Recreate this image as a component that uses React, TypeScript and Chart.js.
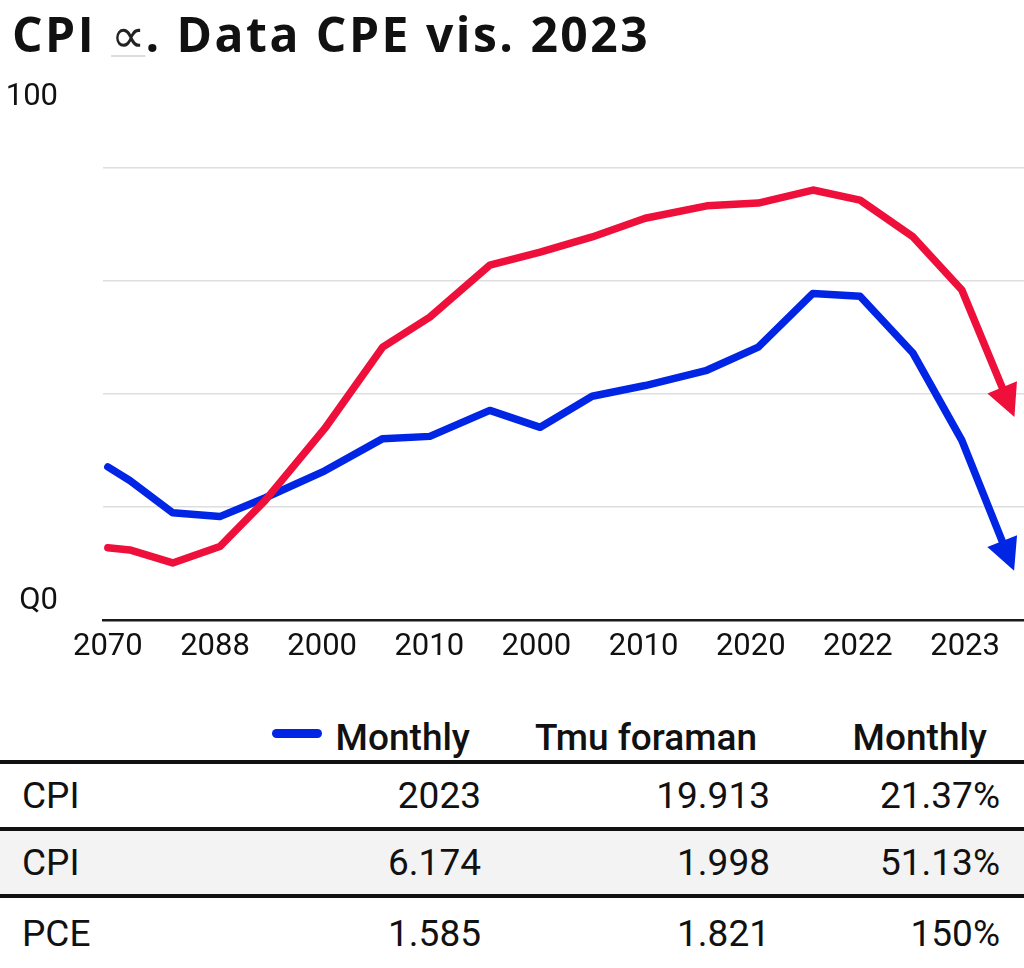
import React, { useEffect, useRef } from 'react';
import { Chart, registerables } from 'chart.js';

Chart.register(...registerables);

const titleStart = 'CPI ';
const titleGlyph = '∝';
const titleEnd = '. Data CPE vis. 2023';

const xTickLabels = ['2070', '2088', '2000', '2010', '2000', '2010', '2020', '2022', '2023'];
const xTickPositions = [0, 2, 4, 6, 8, 10, 12, 14, 16];
const xPositions = [0, 0.41, 1.21, 2.09, 2.93, 4.05, 5.13, 6.01, 7.13, 8.07, 9.04, 10.03, 11.18, 12.14, 13.16, 14.04, 15.03, 15.94, 16.7];
const redSeries = [12.8, 12.4, 10.1, 13.0, 21.1, 33.9, 48.3, 53.6, 62.8, 65.1, 67.8, 71.1, 73.3, 73.8, 76.1, 74.3, 67.8, 58.4, 41.0];
const blueSeries = [27.1, 24.7, 19.0, 18.3, 21.6, 26.4, 32.1, 32.5, 37.1, 34.1, 39.6, 41.5, 44.2, 48.3, 57.8, 57.3, 47.2, 31.8, 13.8];

const yGridValues = [20, 40, 60, 80];
const yTickLabels = ['Q0', '100'];
const yTickLabelValues = [3.3, 92.6];

const tableHeaders = ['Monthly', 'Tmu foraman', 'Monthly'];
const rowLabels = ['CPI', 'CPI', 'PCE'];
const col1 = ['2023', '6.174', '1.585'];
const col2 = ['19.913', '1.998', '1.821'];
const col3 = ['21.37%', '51.13%', '150%'];

const RED = '#EF0F3B';
const BLUE = '#0025E5';

const arrowPlugin = {
  id: 'arrowHeads',
  afterDatasetsDraw(chart: any) {
    const ctx = chart.ctx;
    chart.data.datasets.forEach((ds: any, i: number) => {
      const meta = chart.getDatasetMeta(i);
      const pts = meta.data;
      if (pts.length < 2) return;
      const a = pts[pts.length - 2];
      const b = pts[pts.length - 1];
      const dx = b.x - a.x;
      const dy = b.y - a.y;
      const len = Math.hypot(dx, dy) || 1;
      const ux = dx / len;
      const uy = dy / len;
      const L = 31;
      const W = 16;
      const tipX = b.x + ux * L;
      const tipY = b.y + uy * L;
      const bx = b.x - ux * 1;
      const by = b.y - uy * 1;
      ctx.save();
      ctx.fillStyle = ds.borderColor;
      ctx.beginPath();
      ctx.moveTo(tipX, tipY);
      ctx.lineTo(bx - uy * W, by + ux * W);
      ctx.lineTo(bx + uy * W, by - ux * W);
      ctx.closePath();
      ctx.fill();
      ctx.restore();
    });
  },
};

function LineChart() {
  const ref = useRef<HTMLCanvasElement | null>(null);
  useEffect(() => {
    if (!ref.current) return;
    const chart = new Chart(ref.current, {
      type: 'line',
      data: {
        datasets: [
          {
            label: 'PCE',
            data: xPositions.map((x, i) => ({ x, y: redSeries[i] })),
            borderColor: RED,
            backgroundColor: RED,
            borderWidth: 7.5,
            pointRadius: 0,
            borderJoinStyle: 'round',
            borderCapStyle: 'round',
            tension: 0,
          },
          {
            label: 'CPI',
            data: xPositions.map((x, i) => ({ x, y: blueSeries[i] })),
            borderColor: BLUE,
            backgroundColor: BLUE,
            borderWidth: 7.5,
            pointRadius: 0,
            borderJoinStyle: 'round',
            borderCapStyle: 'round',
            tension: 0,
          },
        ],
      },
      options: {
        animation: false,
        responsive: true,
        maintainAspectRatio: false,
        layout: { padding: { top: 55, left: 0, right: 0, bottom: 0 } },
        plugins: {
          legend: { display: false },
          tooltip: { enabled: false },
          title: { display: false },
        },
        scales: {
          x: {
            type: 'linear',
            min: -0.09,
            max: 17.1,
            afterBuildTicks: (axis: any) => {
              axis.ticks = xTickPositions.map((v) => ({ value: v }));
            },
            afterFit: (axis: any) => {
              axis.height = 61;
            },
            grid: { display: false, drawTicks: false },
            border: { display: true, color: '#1a1a1a', width: 2.5 },
            ticks: {
              autoSkip: false,
              maxRotation: 0,
              padding: 9,
              color: '#111',
              font: { family: 'Roboto', size: 31, weight: 'normal' },
              callback: (v: any) => {
                const idx = xTickPositions.indexOf(Number(v));
                return idx >= 0 ? xTickLabels[idx] : '';
              },
            },
          },
          y: {
            type: 'linear',
            min: 0,
            max: 100,
            afterBuildTicks: (axis: any) => {
              const vals = [0, ...yTickLabelValues, ...yGridValues].sort((a, b) => a - b);
              axis.ticks = vals.map((v) => ({ value: v }));
            },
            afterFit: (axis: any) => {
              axis.width = 103;
              axis.paddingTop = 0;
              axis.paddingBottom = 0;
            },
            grid: {
              drawTicks: false,
              lineWidth: 1.5,
              color: (c: any) => (c.tick && yGridValues.includes(c.tick.value) ? '#dedede' : 'rgba(0,0,0,0)'),
            },
            border: { display: false },
            ticks: {
              padding: 45,
              color: '#111',
              font: { family: 'Roboto', size: 31, weight: 'normal' },
              callback: (v: any) => {
                const idx = yTickLabelValues.indexOf(Number(v));
                return idx >= 0 ? yTickLabels[idx] : '';
              },
            },
          },
        },
      },
      plugins: [arrowPlugin],
    } as any);
    return () => chart.destroy();
  }, []);
  return (
    <div style={{ position: 'absolute', left: 0, top: 0, width: 1024, height: 681 }}>
      <canvas ref={ref} />
    </div>
  );
}

const abs = (s: React.CSSProperties): React.CSSProperties => ({ position: 'absolute', ...s });

export default function App() {
  useEffect(() => {
    document.body.style.margin = '0';
    document.body.style.background = '#fff';
  }, []);
  const rowTops = [764, 831, 898];
  const rowHeights = [63, 63, 70];
  const valueFont: React.CSSProperties = { fontFamily: 'Roboto', fontSize: 37, fontWeight: 400, color: '#111', lineHeight: 1 };
  const headerFont: React.CSSProperties = { fontFamily: 'Roboto', fontSize: 37, fontWeight: 500, color: '#111', lineHeight: 1 };
  const cell = (text: string, rightEdge: number, top: number, h: number, font: React.CSSProperties, key: string) => (
    <div key={key} style={abs({ left: rightEdge - 300, width: 300, top, height: h, display: 'flex', alignItems: 'center', justifyContent: 'flex-end', whiteSpace: 'nowrap', ...font })}>
      {text}
    </div>
  );
  return (
    <div style={{ position: 'relative', width: 1024, height: 968, overflow: 'hidden', background: '#fff' }}>
      <LineChart />
      <div style={abs({ left: 12, top: 10, fontFamily: '"Open Sans"', fontSize: 48, fontWeight: 700, color: '#111', lineHeight: 1, whiteSpace: 'nowrap', letterSpacing: 2.5 })}>
        {titleStart}
        <span style={{ fontFamily: '"DejaVu Sans"', fontWeight: 400, fontSize: 48, color: '#222', letterSpacing: 0, textDecoration: 'underline', textDecorationColor: '#dcdcdc', textDecorationThickness: 1.5, textUnderlineOffset: 3 }}>{titleGlyph}</span>
        {titleEnd}
      </div>

      {/* table header */}
      <div style={abs({ left: 272, top: 729, width: 50, height: 9, borderRadius: 5, background: BLUE })} />
      {cell(tableHeaders[0], 470, 711, 52, headerFont, 'h0')}
      {cell(tableHeaders[1], 757, 711, 52, headerFont, 'h1')}
      {cell(tableHeaders[2], 987, 711, 52, headerFont, 'h2')}

      <div style={abs({ left: 0, top: 831, width: 1024, height: 63, background: '#f3f3f3' })} />
      <div style={abs({ left: 0, top: 760, width: 1024, height: 4, background: '#111' })} />
      <div style={abs({ left: 0, top: 827, width: 1024, height: 4, background: '#111' })} />
      <div style={abs({ left: 0, top: 894, width: 1024, height: 4, background: '#111' })} />

      {rowLabels.map((lab, i) => (
        <div key={'l' + i} style={abs({ left: 22, top: rowTops[i], height: rowHeights[i], display: 'flex', alignItems: 'center', ...valueFont })}>
          {lab}
        </div>
      ))}
      {col1.map((t, i) => cell(t, 481, rowTops[i], rowHeights[i], valueFont, 'a' + i))}
      {col2.map((t, i) => cell(t, 770, rowTops[i], rowHeights[i], valueFont, 'b' + i))}
      {col3.map((t, i) => cell(t, 1000, rowTops[i], rowHeights[i], valueFont, 'c' + i))}
    </div>
  );
}
